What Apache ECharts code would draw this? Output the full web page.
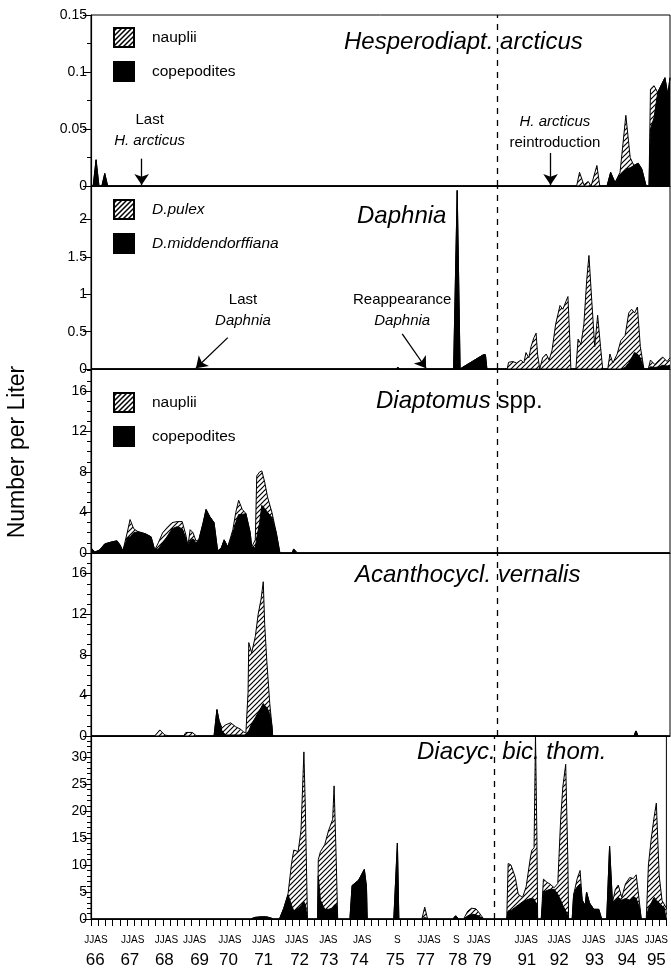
<!DOCTYPE html>
<html>
<head>
<meta charset="utf-8">
<script src="https://cdn.jsdelivr.net/npm/echarts@6/dist/echarts.min.js"></script>
<style>
  html, body { margin: 0; padding: 0; background: #fff; }
  #chart { width: 671px; height: 972px; }
</style>
</head>
<body>
<div id="chart"></div>
<script>
// x = position on the compressed season axis (0..80, one unit per sampling tick)

// Hesperodiaptomus arcticus
const hespX = [0, 0.3, 0.7, 1.1, 1.5, 1.9, 2.3, 67.1, 67.5, 68.1, 68.7, 69.1, 69.9, 70.3, 71.3, 71.8, 72.4, 73.1, 73.9, 74.5, 75.0, 75.6, 76.1, 76.7, 77.1, 77.3, 77.8, 78.3, 78.9, 79.3, 79.7, 80];
const hespCop = [0, 0, 0.023, 0, 0, 0.011, 0, 0, 0, 0, 0, 0, 0, 0, 0, 0.012, 0.003, 0.010, 0.015, 0.016, 0.018, 0.020, 0.015, 0, 0, 0.050, 0.060, 0.082, 0.090, 0.095, 0.080, 0.095];
const hespNau = [0, 0, 0, 0, 0, 0, 0, 0, 0.012, 0.001, 0.004, 0, 0.018, 0, 0, 0, 0, 0.002, 0.047, 0.009, 0, 0, 0, 0, 0, 0.035, 0.028, 0, 0, 0, 0, 0];

// Daphnia
const daphX = [0, 42.1, 42.4, 42.7, 50.1, 50.6, 51.0, 51.3, 54.2, 54.5, 54.7, 57.5, 57.7, 58.3, 58.8, 59.4, 59.8, 60.1, 60.5, 60.8, 61.2, 61.5, 61.7, 62.0, 62.4, 62.9, 63.3, 63.7, 64.2, 64.8, 65.2, 65.6, 65.9, 66.2, 66.3, 67.0, 67.3, 67.7, 68.1, 68.5, 68.8, 69.2, 69.6, 70.0, 70.4, 70.7, 71.4, 71.7, 72.1, 72.7, 73.2, 73.8, 74.3, 74.7, 75.1, 75.5, 75.9, 76.4, 77.0, 77.3, 77.9, 78.5, 79.0, 79.6, 80];
const daphMidd = [0, 0, 0.02, 0, 0, 2.39, 0, 0.02, 0.19, 0.19, 0, 0, 0, 0, 0, 0, 0, 0, 0, 0, 0, 0, 0, 0, 0, 0, 0, 0, 0, 0, 0, 0, 0, 0, 0, 0, 0, 0, 0, 0, 0, 0, 0, 0, 0, 0, 0, 0, 0, 0, 0, 0.02, 0.08, 0.15, 0.22, 0.20, 0.15, 0, 0, 0.03, 0.02, 0.03, 0.05, 0.04, 0.05];
const daphPulex = [0, 0, 0, 0, 0, 0, 0, 0, 0, 0, 0, 0, 0.09, 0.10, 0.08, 0.12, 0.08, 0.22, 0.15, 0.30, 0.42, 0.48, 0.20, 0, 0.15, 0.20, 0.12, 0.25, 0.60, 0.85, 0.80, 0.90, 0.97, 0.30, 0, 0, 0.40, 0.33, 0.60, 1.20, 1.52, 0.90, 0.30, 0.72, 0.30, 0, 0, 0.20, 0.08, 0.20, 0.38, 0.43, 0.67, 0.65, 0.53, 0.63, 0.15, 0, 0, 0.09, 0.04, 0.09, 0.11, 0.06, 0.10];

// Diaptomus spp.
const diapX = [0, 0.55, 1.2, 1.9, 2.9, 3.6, 4.0, 4.4, 5.0, 5.4, 5.9, 6.5, 7.5, 8.3, 8.8, 9.3, 9.9, 10.5, 11.2, 11.9, 12.6, 13.1, 13.4, 13.7, 14.1, 14.5, 14.9, 15.5, 15.9, 16.4, 17.0, 17.5, 18.0, 18.4, 18.9, 19.6, 20.0, 20.4, 20.9, 21.4, 22.0, 22.2, 22.7, 22.9, 23.3, 23.6, 24.0, 24.4, 25.0, 25.6, 26.1, 27.8, 28.0, 28.5, 80];
const diapCop = [0.5, 0.1, 0.3, 0.9, 1.1, 1.2, 0.8, 0.2, 1.5, 1.6, 2.0, 2.1, 1.9, 1.6, 0.3, 0.4, 1.0, 1.6, 2.4, 2.6, 2.4, 1.5, 0.7, 1.2, 1.4, 1.0, 1.3, 3.0, 4.3, 3.6, 3.0, 0.2, 0.5, 1.3, 0.6, 2.0, 3.0, 3.8, 3.8, 3.9, 2.0, 0.6, 0.5, 1.5, 3.0, 4.7, 4.4, 4.0, 3.5, 2.0, 0, 0, 0.4, 0, 0];
const diapNau = [0, 0, 0, 0, 0, 0, 0, 0, 0.5, 1.7, 0.4, 0, 0, 0, 0, 0.6, 1.0, 0.9, 0.6, 0.5, 0.7, 0.3, 0, 1.1, 0.6, 0.2, 0, 0, 0, 0, 0, 0, 0, 0, 0, 0.3, 1.0, 1.4, 0.5, 0, 0, 0, 0.8, 6.1, 5.0, 3.4, 2.6, 1.5, 0.5, 0, 0, 0, 0, 0, 0];

// Acanthocyclops vernalis
const acanX = [0, 8.8, 9.5, 10.2, 10.9, 12.8, 13.1, 14.0, 14.6, 17.0, 17.4, 17.7, 18.1, 18.6, 19.3, 20.0, 20.6, 21.1, 21.4, 21.7, 21.8, 22.2, 22.7, 23.1, 23.5, 23.8, 24.0, 24.3, 24.7, 25.0, 25.1, 75.0, 75.3, 75.6, 80];
const acanCop = [0, 0, 0, 0, 0, 0, 0, 0, 0, 0, 2.6, 1.5, 0.5, 0.1, 0.1, 0.1, 0.1, 0.1, 0.1, 0.3, 0.5, 1.2, 1.8, 2.3, 2.8, 3.2, 3.0, 2.8, 2.2, 1.0, 0, 0, 0.5, 0, 0];
const acanNau = [0, 0, 0.6, 0.1, 0, 0, 0.35, 0.35, 0, 0, 0, 0, 0.3, 1.0, 1.2, 0.8, 0.6, 0.3, 0.2, 4.0, 8.7, 7.0, 8.0, 9.7, 10.7, 12.0, 8.0, 4.5, 1.0, 0, 0, 0, 0, 0, 0];

// Diacyclops bicuspidatus thomasi
const diacX = [0, 22.2, 22.8, 23.6, 24.4, 25.0, 25.3, 26.2, 26.8, 27.4, 27.9, 28.2, 28.8, 29.2, 29.6, 29.8, 30.0, 30.1, 31.5, 31.6, 31.9, 32.5, 33.0, 33.6, 33.8, 34.1, 34.3, 36.0, 36.3, 37.2, 38.0, 38.3, 38.4, 42.1, 42.6, 42.8, 46.0, 46.4, 46.8, 50.3, 50.7, 51.1, 51.8, 52.4, 52.9, 53.5, 54.0, 54.6, 57.8, 58.0, 58.4, 59.0, 59.4, 60.0, 60.5, 61.1, 61.3, 61.6, 61.8, 62.0, 62.1, 62.6, 62.9, 63.4, 63.8, 64.4, 64.9, 65.3, 65.6, 66.0, 66.3, 66.4, 66.9, 67.1, 67.6, 68.0, 68.3, 68.7, 68.9, 69.3, 69.9, 70.6, 71.0, 71.7, 72.1, 72.5, 72.9, 73.3, 73.8, 74.3, 74.9, 75.4, 75.8, 76.3, 76.5, 77.2, 77.5, 77.9, 78.3, 78.6, 79.0, 79.4, 79.8, 80];
const diacCop = [0, 0, 0.3, 0.4, 0.4, 0.2, 0, 0, 2.0, 4.5, 2.5, 1.5, 2.0, 2.5, 3.2, 2.6, 2.4, 0, 0, 8.0, 3.5, 1.8, 1.8, 2.0, 2.5, 2.8, 0, 0, 6.2, 7.2, 9.2, 6.0, 0, 0, 14.1, 0, 0, 0.3, 0, 0, 0.6, 0, 0, 0.6, 0.9, 0.8, 0.5, 0, 0, 1.5, 1.6, 2.2, 2.6, 3.2, 3.5, 3.8, 3.8, 3.7, 3.6, 2.5, 0, 0, 5.0, 5.3, 5.5, 5.5, 4.6, 3.5, 2.5, 1.5, 0.8, 0, 0, 4.5, 6.0, 6.5, 3.5, 2.5, 5.0, 3.0, 1.8, 1.8, 0, 0, 13.5, 3.0, 3.5, 4.0, 3.5, 3.8, 3.5, 4.2, 3.8, 2.0, 0, 0, 2.0, 3.0, 4.0, 3.5, 3.0, 2.4, 2.0, 2.0];
const diacNau = [0, 0, 0, 0, 0, 0, 0, 0, 0, 0.2, 8.0, 11.3, 10.5, 14.0, 27.8, 18.0, 18.0, 0, 0, 3.0, 9.0, 12.0, 14.5, 16.5, 22.2, 8.0, 0, 0, 0, 0, 0, 0, 0, 0, 0, 0, 0, 1.9, 0, 0, 0, 0, 0, 0.9, 1.1, 1.1, 0.6, 0, 0, 8.8, 8.4, 5.5, 2.0, 0.8, 2.5, 7.7, 9.0, 9.5, 30.5, 12.5, 0, 0, 2.4, 1.5, 1.0, 0.3, 2.0, 15.0, 22.0, 27.2, 10.0, 0, 0, 0, 1.5, 2.5, 0, 0, 0, 0, 0, 0, 0, 0, 0, 0, 2.0, 2.3, 0.5, 2.7, 4.2, 3.3, 4.4, 0.5, 0, 0, 8.0, 12.0, 15.0, 18.0, 5.0, 1.0, 0.5, 0];

// axis labels under the last panel
const monthPos = [0.7, 5.8, 10.5, 14.4, 19.3, 24.0, 28.6, 33.0, 37.7, 42.6, 47.0, 50.8, 53.9, 60.5, 65.1, 69.9, 74.5, 78.6];
const monthText = ['JJAS', 'JJAS', 'JJAS', 'JJAS', 'JJAS', 'JJAS', 'JJAS', 'JAS', 'JAS', 'S', 'JJAS', 'S', 'JJAS', 'JJAS', 'JJAS', 'JJAS', 'JJAS', 'JJAS'];
const yearPos = [0.6, 5.4, 10.2, 15.1, 19.1, 24.0, 29.0, 33.1, 37.3, 42.3, 46.5, 51.0, 54.4, 60.6, 65.1, 70.0, 74.5, 78.6];
const yearText = ['66', '67', '68', '69', '70', '71', '72', '73', '74', '75', '77', '78', '79', '91', '92', '93', '94', '95'];

const breakX = 56.1; // 1979 / 1991 break

const FONT = 'Liberation Sans, Arial, Helvetica, sans-serif';

function makeHatch() {
  const c = document.createElement('canvas');
  c.width = 5; c.height = 5;
  const g = c.getContext('2d');
  g.fillStyle = '#fff';
  g.fillRect(0, 0, 5, 5);
  g.strokeStyle = '#000';
  g.lineWidth = 1.2;
  g.beginPath();
  g.moveTo(0, 5); g.lineTo(5, 0);
  g.moveTo(-1, 1); g.lineTo(1, -1);
  g.moveTo(4, 6); g.lineTo(6, 4);
  g.stroke();
  return c;
}
const hatch = { image: makeHatch(), repeat: 'repeat' };

// hatched legend swatch
function makeSwatch() {
  const c = document.createElement('canvas');
  c.width = 22; c.height = 21;
  const g = c.getContext('2d');
  g.fillStyle = '#fff';
  g.fillRect(0, 0, 22, 21);
  g.strokeStyle = '#000';
  g.lineWidth = 1.5;
  g.beginPath();
  for (let d = -21; d < 22; d += 5) { g.moveTo(d, 21); g.lineTo(d + 21, 0); }
  g.stroke();
  g.lineWidth = 2;
  g.strokeRect(1, 1, 20, 19);
  return 'image://' + c.toDataURL();
}
const swatch = makeSwatch();

const grids = [
  { top: 15, height: 171, max: 0.15, step: 0.05, minor: 2 },
  { top: 186, height: 183, max: 2.45, step: 0.5, minor: 0 },
  { top: 369, height: 184, max: 18.16, step: 4, minor: 4 },
  { top: 553, height: 183, max: 18.03, step: 4, minor: 4 },
  { top: 736, height: 183, max: 33.95, step: 5, minor: 5 }
];

const dashed = {
  silent: true,
  symbol: 'none',
  label: { show: false },
  lineStyle: { color: '#000', type: [6, 6], width: 1.3 },
  data: [{ xAxis: breakX }]
};

const noteRich = {
  n: { fontSize: 15, fontFamily: FONT, color: '#000', lineHeight: 21 },
  i: { fontSize: 15, fontFamily: FONT, color: '#000', lineHeight: 21, fontStyle: 'italic' }
};

function notes(arrowList, textList) {
  return {
    markLine: {
      silent: true,
      symbol: ['none', 'arrow'],
      symbolSize: 11,
      label: { show: false },
      lineStyle: { color: '#000', type: 'solid', width: 1.3 },
      data: arrowList.map(a => [{ coord: a[0] }, { coord: a[1] }])
    },
    markPoint: {
      silent: true,
      symbol: 'circle', symbolSize: 1,
      itemStyle: { color: 'rgba(0,0,0,0)' },
      data: textList.map(t => ({
        coord: t[0],
        label: { show: true, position: 'inside', formatter: t[1], rich: noteRich }
      }))
    }
  };
}

// hatched area is drawn to the stacked total, black area is drawn over it
function panel(k, xs, bottom, top, names, extra) {
  const base = {
    type: 'line', xAxisIndex: k, yAxisIndex: k,
    symbol: 'none', animation: false, smooth: false,
    lineStyle: { color: '#000', width: 1 }
  };
  const upper = Object.assign({}, base, {
    name: names[0],
    data: xs.map((x, i) => [x, bottom[i] + top[i]]),
    itemStyle: { color: '#fff', borderColor: '#000' },
    areaStyle: { color: hatch, opacity: 1 },
    markLine: dashed
  });
  const lower = Object.assign({}, base, {
    name: names[1],
    data: xs.map((x, i) => [x, bottom[i]]),
    itemStyle: { color: '#000' },
    areaStyle: { color: '#000', opacity: 1 }
  }, extra || {});
  return [upper, lower];
}

const copNames = ['nauplii', 'copepodites'];

const series = [].concat(
  panel(0, hespX, hespCop, hespNau, copNames, notes(
    [[[7.0, 0.024], [7.0, 0.0008]], [[63.5, 0.029], [63.5, 0.0008]]],
    [[[8.1, 0.049], '{n|Last}\n{i|H. arcticus}'], [[64.1, 0.047], '{i|H. arcticus}\n{n|reintroduction}']]
  )),
  panel(1, daphX, daphMidd, daphPulex, ['D.pulex', 'D.middendorffiana'], notes(
    [[[18.9, 0.42], [14.5, 0.01]], [[43.0, 0.47], [46.3, 0.01]]],
    [[[21.0, 0.78], '{n|Last}\n{i|Daphnia}'], [[43.0, 0.78], '{n|Reappearance}\n{i|Daphnia}']]
  )),
  panel(2, diapX, diapCop, diapNau, copNames),
  panel(3, acanX, acanCop, acanNau, copNames),
  panel(4, diacX, diacCop, diacNau, copNames)
);

const xAxis = grids.map((g, k) => ({
  type: 'value', gridIndex: k, min: 0, max: 80, interval: 1,
  axisLine: { show: true, onZero: false, lineStyle: { color: '#000', width: 1.2 } },
  axisTick: { show: k === 4, length: 7, lineStyle: { color: '#000', width: 1 } },
  axisLabel: { show: false },
  splitLine: { show: false }
}));
function labelAxis(pos, text, size, margin) {
  return {
    type: 'value', gridIndex: 4, position: 'bottom', min: 0, max: 80,
    axisLine: { show: false }, axisTick: { show: false }, splitLine: { show: false },
    axisLabel: {
      show: true, customValues: pos, margin: margin, color: '#000',
      fontFamily: FONT, fontSize: size,
      formatter: v => {
        const i = pos.findIndex(p => Math.abs(p - v) < 1e-6);
        return i < 0 ? '' : text[i];
      }
    }
  };
}
xAxis.push(labelAxis(monthPos, monthText, 10, 16));
xAxis.push(labelAxis(yearPos, yearText, 17, 33));

const yAxis = grids.map((g, k) => ({
  type: 'value', gridIndex: k, min: 0, max: g.max, interval: g.step,
  axisLine: { show: true, lineStyle: { color: '#000', width: 1.2 } },
  axisTick: { show: true, length: 8, lineStyle: { color: '#000' } },
  minorTick: { show: g.minor > 0, splitNumber: g.minor || 5, length: 4, lineStyle: { color: '#000' } },
  splitLine: { show: false },
  axisLabel: {
    color: '#000', fontFamily: FONT, fontSize: 14, margin: 4,
    formatter: v => {
      const r = v / g.step;
      return Math.abs(r - Math.round(r)) < 1e-6 ? String(v) : '';
    }
  }
}));

const titleStyle = { color: '#000', fontFamily: FONT, fontSize: 24, fontStyle: 'italic', fontWeight: 'normal' };
const title = [
  { text: 'Hesperodiapt. arcticus', left: 344, top: 30 },
  { text: 'Daphnia', left: 357, top: 204 },
  { text: '{i|Diaptomus} spp.', left: 376, top: 389 },
  { text: 'Acanthocycl. vernalis', left: 355, top: 563 },
  { text: 'Diacyc. bic. thom.', left: 417, top: 740 }
].map((t, k) => Object.assign(t, {
  padding: 0,
  textStyle: k === 2
    ? { color: '#000', fontFamily: FONT, fontSize: 24, fontWeight: 'normal',
        rich: { i: { fontStyle: 'italic', fontSize: 24, fontFamily: FONT, color: '#000' } } }
    : titleStyle
}));

function legendAt(top, names, italic) {
  return {
    orient: 'vertical', left: 113, top: top, padding: 0,
    itemWidth: 22, itemHeight: 21, itemGap: 13,
    selectedMode: false,
    textStyle: { color: '#000', fontFamily: FONT, fontSize: 15.5, fontStyle: italic ? 'italic' : 'normal', padding: [0, 0, 0, 12] },
    data: [
      { name: names[0], icon: swatch },
      { name: names[1], icon: 'rect', itemStyle: { color: '#000', borderWidth: 0 } }
    ]
  };
}

const option = {
  animation: false,
  backgroundColor: '#fff',
  title: title,
  legend: [
    legendAt(27, copNames, false),
    legendAt(199, ['D.pulex', 'D.middendorffiana'], true),
    legendAt(392, copNames, false)
  ],
  grid: grids.map(g => ({ left: 91, right: 1, top: g.top, height: g.height, show: true, borderColor: '#000', borderWidth: 1 })),
  xAxis: xAxis,
  yAxis: yAxis,
  graphic: [{
    type: 'text', x: 18, y: 452, rotation: Math.PI / 2,
    style: { text: 'Number per Liter', fill: '#000', font: '23px ' + FONT, align: 'center', verticalAlign: 'middle' }
  }],
  series: series
};

const chart = echarts.init(document.getElementById('chart'));
chart.setOption(option);
</script>
</body>
</html>
